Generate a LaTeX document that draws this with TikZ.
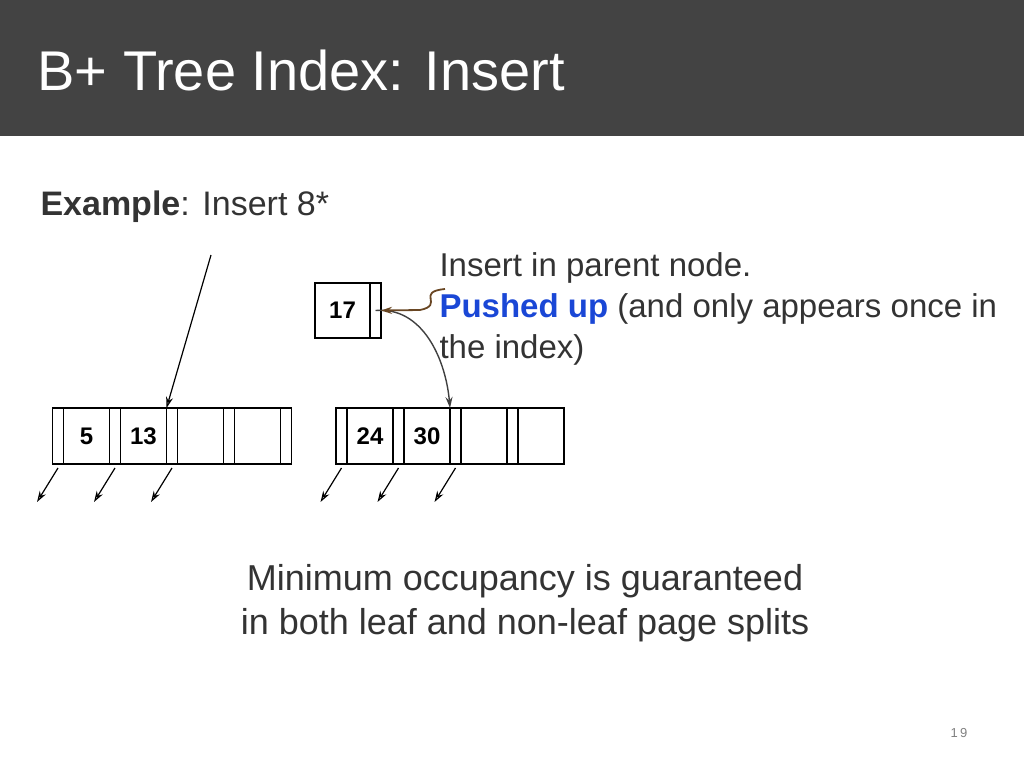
\documentclass[tikz,border=0pt]{standalone}
\usepackage{fontspec}
\setmainfont{Liberation Sans}
\usetikzlibrary{positioning, arrows.meta}
\definecolor{barcol}{HTML}{434343}
\definecolor{txtcol}{HTML}{333333}
\definecolor{pushblue}{HTML}{1A47D6}
\tikzset{
  ptr/.style={draw, line width=1.2pt, minimum width=11pt, minimum height=56pt, inner sep=0pt, outer sep=0pt},
  key/.style={draw, line width=1.2pt, minimum width=46pt, minimum height=56pt, inner sep=0pt, outer sep=0pt, font=\fontsize{24}{24}\selectfont\bfseries},
  down/.style={-{Stealth[length=11pt, width=7pt, open]}, line width=1.2pt}
}
\begin{document}
\begin{tikzpicture}[x=1pt, y=-1pt]
	\useasboundingbox (0,0) rectangle (1024,768);
	% title bar
	\fill[barcol] (0,0) rectangle (1024,136);
	\node[anchor=west, text=white, font=\fontsize{56}{56}\selectfont] (title) at (34,70) {B+ Tree Index: Insert};
	\node[anchor=west, text=txtcol, font=\fontsize{34}{34}\selectfont] (ex) at (37,207) {\textbf{Example}: Insert 8*};
	% root node
	\node[key, minimum width=55pt, minimum height=55pt] (root) at (342.5,310.5) {17};
	\node[ptr, minimum height=55pt, right=0pt of root] (rp) {};
	% left node
	\node[ptr] (lp0) at (58,436) {};
	\node[key, right=0pt of lp0] (lk1) {5};
	\node[ptr, right=0pt of lk1] (lp1) {};
	\node[key, right=0pt of lp1] (lk2) {13};
	\node[ptr, right=0pt of lk2] (lp2) {};
	\node[key, right=0pt of lp2] (lk3) {};
	\node[ptr, right=0pt of lk3] (lp3) {};
	\node[key, right=0pt of lp3] (lk4) {};
	\node[ptr, right=0pt of lk4] (lp4) {};
	% right node
	\node[ptr] (rp0) at (341.5,436) {};
	\node[key, right=0pt of rp0] (rk1) {24};
	\node[ptr, right=0pt of rk1] (rp1) {};
	\node[key, right=0pt of rp1] (rk2) {30};
	\node[ptr, right=0pt of rk2] (rp2) {};
	\node[key, right=0pt of rp2] (rk3) {};
	\node[ptr, right=0pt of rk3] (rp3) {};
	\node[key, right=0pt of rp3] (rk4) {};
	% pointers
	\coordinate (top) at (211,255);
	\draw[down] (top) -- (lp2.north west);
	\foreach \p in {lp0,lp1,lp2,rp0,rp1,rp2}
		\draw[down] ([yshift=-4pt]\p.south) -- ++(-21,34);
	\draw[down, black!75, line width=1.4pt] (rp.center) to[out=5, in=95] (rk2.north east);
	% annotation
	\node[anchor=north west, text=txtcol, align=left, font=\fontsize{33}{41}\selectfont] (note) at (436,249)
		{Insert in parent node.\\\textcolor{pushblue}{\textbf{Pushed up}} (and only appears once in\\the index)};
	\draw[-{Stealth[length=11pt, width=7pt]}, line width=1.8pt, black!45!brown] (445,289) .. controls (415,292) and (445,305) .. (420,310) -- (rp.east);
	\node[text=txtcol, align=center, font=\fontsize{36}{44}\selectfont] (occ) at (525,603)
		{Minimum occupancy is guaranteed\\in both leaf and non-leaf page splits};
	\node[text=black!50, font=\fontsize{13}{13}\selectfont] (page) at (959,733) {1\,9};
\end{tikzpicture}
\end{document}
